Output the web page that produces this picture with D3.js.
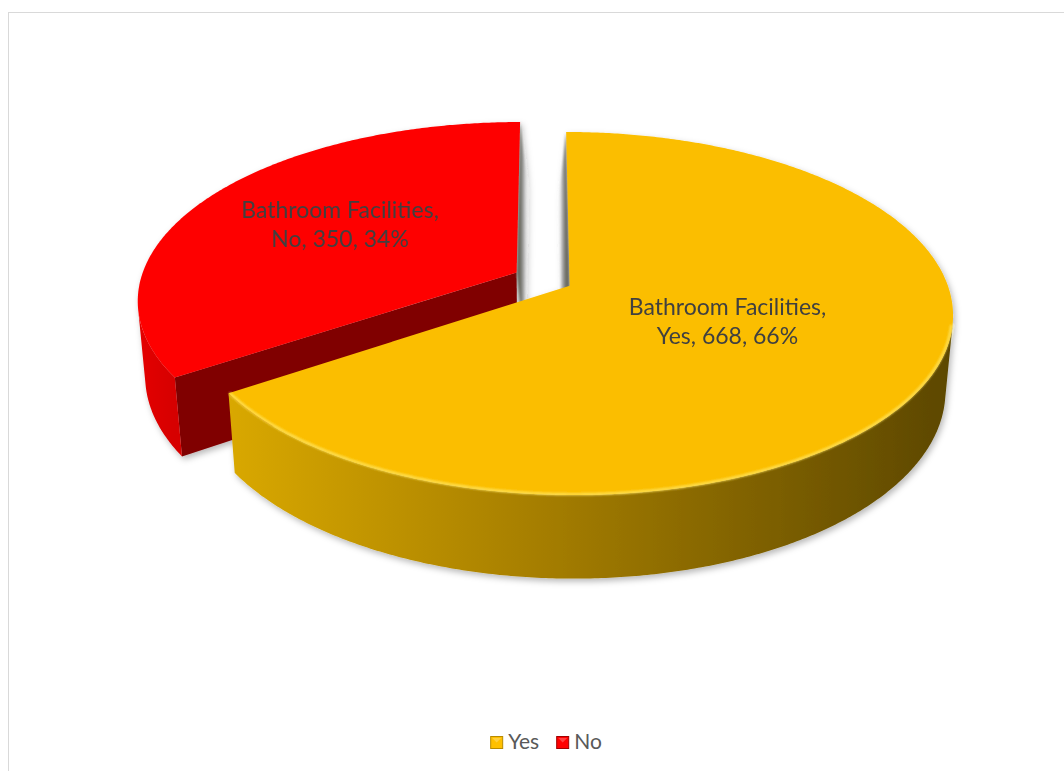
<!DOCTYPE html>
<html>
<head>
<meta charset="utf-8">
<script src="https://cdn.jsdelivr.net/npm/d3@7"></script>
<style>
  body { margin: 0; background: #ffffff; }
  svg { display: block; }
</style>
</head>
<body>
<svg id="chart" width="1064" height="771"></svg>
<script>
// ---- data ----
const seriesName = "Bathroom Facilities";
const categories = ["Yes", "No"];
const values = [668, 350];

// ---- styles ----
const topColors = ["#FBBE00", "#FE0000"];
const sideStops = [
  [["0", "#D9A800"], ["0.45", "#A37C00"], ["1", "#5C4700"]],
  [["0", "#E40000"], ["1", "#D60000"]]
];
const radialColors = ["#7A5E00", "#800000"];
const legendFill = ["#FFC000", "#FF0000"];
const legendEdge = ["#B88A00", "#A00000"];
const labelRadius = [0.455, 0.56];   // where each label sits along its slice's bisector

const W = 1064, H = 771;
const svg = d3.select("#chart");
const defs = svg.append("defs");

// chart area frame
svg.append("rect")
  .attr("x", 8.5).attr("y", 12.5)
  .attr("width", 1100).attr("height", 800)
  .attr("fill", "none").attr("stroke", "#D9D9D9").attr("stroke-width", 1);

// ---- 3D projection of a disc lying flat, seen from above at an angle ----
const cx = 543, cy = 279;      // screen position of pie centre
const scale = 376;             // pixels per unit radius
const sinPhi = 0.466, cosPhi = Math.sqrt(1 - sinPhi * sinPhi);
const dist = 5.8;              // camera distance, in radii
const thick = 0.228;           // slice thickness, in radii
const explode = 0.08;          // explosion distance, in radii
const cam = [0, dist * sinPhi, -dist * cosPhi];

function project(X, Y, Z) {
  const up = Y * cosPhi + Z * sinPhi;
  const depth = dist + Z * cosPhi - Y * sinPhi;
  const f = dist / depth;
  return [cx + scale * X * f, cy - scale * up * f];
}

const pie = d3.pie().sort(null).startAngle(0).endAngle(2 * Math.PI);
const arcs = pie(values).map((d, i) => {
  const mid = (d.startAngle + d.endAngle) / 2;
  return Object.assign(d, {
    i, mid,
    ox: explode * Math.sin(mid),
    oz: explode * Math.cos(mid)
  });
});

const line = d3.line();
function polyPath(pts) { return line(pts) + "Z"; }
function rimPoint(d, a, r, Y) {
  return project(d.ox + r * Math.sin(a), Y, d.oz + r * Math.cos(a));
}
function sampleAngles(a0, a1) {
  const n = Math.max(2, Math.ceil((a1 - a0) / (Math.PI / 360)));
  return d3.range(n + 1).map(k => a0 + (a1 - a0) * k / n);
}
function facesCamera(n, p) {
  return n[0] * (cam[0] - p[0]) + n[1] * (cam[1] - p[1]) + n[2] * (cam[2] - p[2]) > 0;
}

// soft shadow beneath the pie
const shadow = defs.append("filter").attr("id", "pieShadow")
  .attr("x", "-10%").attr("y", "-10%").attr("width", "120%").attr("height", "130%");
shadow.append("feDropShadow")
  .attr("dx", 2).attr("dy", 3).attr("stdDeviation", 3)
  .attr("flood-color", "#000").attr("flood-opacity", 0.28);

const blurSoft = defs.append("filter").attr("id", "soft")
  .attr("x", "-50%").attr("y", "-50%").attr("width", "200%").attr("height", "200%");
blurSoft.append("feGaussianBlur").attr("stdDeviation", 1.2);

const blurRim = defs.append("filter").attr("id", "rimBlur")
  .attr("x", "-5%").attr("y", "-5%").attr("width", "110%").attr("height", "110%");
blurRim.append("feGaussianBlur").attr("stdDeviation", 0.8);

const pieG = svg.append("g").attr("filter", "url(#pieShadow)");

// draw far slices first
const order = arcs.slice().sort((a, b) => b.oz - a.oz);

order.forEach(d => {
  const g = pieG.append("g").attr("class", "slice slice-" + categories[d.i]);
  const centreTop = project(d.ox, 0, d.oz);
  const centreBot = project(d.ox, -thick, d.oz);

  // radial (cut) faces
  [[d.startAngle, d.startAngle - Math.PI / 2], [d.endAngle, d.endAngle + Math.PI / 2]].forEach(([a, na]) => {
    const n = [Math.sin(na), 0, Math.cos(na)];
    const p = [d.ox + 0.5 * Math.sin(a), -thick / 2, d.oz + 0.5 * Math.cos(a)];
    if (!facesCamera(n, p)) return;
    const rimTop = rimPoint(d, a, 1, 0);
    const rimBot = rimPoint(d, a, 1, -thick);
    const along = Math.abs(Math.sin(a));
    if (along < 0.05) {
      // face seen almost edge-on across the gap: soft shaded band
      const side = n[0] > 0 ? 1 : -1;
      const gid = "gapShade" + d.i;
      const grad = defs.append("linearGradient").attr("id", gid)
        .attr("gradientUnits", "userSpaceOnUse")
        .attr("x1", rimTop[0]).attr("y1", 0)
        .attr("x2", rimTop[0] + side * 8).attr("y2", 0);
      grad.append("stop").attr("offset", "0").attr("stop-color", "#6a6a60");
      grad.append("stop").attr("offset", "0.45").attr("stop-color", "#a8a8a8");
      grad.append("stop").attr("offset", "1").attr("stop-color", "#ffffff").attr("stop-opacity", 0);
      const sh = side * 7;
      g.append("path")
        .attr("d", polyPath([centreTop, rimTop, [rimBot[0] + sh, rimBot[1]], [centreBot[0] + sh, centreBot[1]]]))
        .attr("fill", "url(#" + gid + ")")
        .attr("filter", "url(#soft)");
    } else {
      g.append("path")
        .attr("d", polyPath([centreTop, rimTop, rimBot, centreBot]))
        .attr("fill", radialColors[d.i]);
    }
  });

  // outer curved side: only the parts that face the camera
  const angles = sampleAngles(d.startAngle, d.endAngle);
  const runs = [];
  let cur = null;
  angles.forEach(a => {
    const n = [Math.sin(a), 0, Math.cos(a)];
    const p = [d.ox + Math.sin(a), -thick / 2, d.oz + Math.cos(a)];
    if (facesCamera(n, p)) {
      if (!cur) { cur = []; runs.push(cur); }
      cur.push(a);
    } else cur = null;
  });
  const gradId = "side" + d.i;
  let minX = Infinity, maxX = -Infinity;
  runs.forEach(run => run.forEach(a => {
    const x = rimPoint(d, a, 1, 0)[0];
    minX = Math.min(minX, x); maxX = Math.max(maxX, x);
  }));
  const sg = defs.append("linearGradient").attr("id", gradId)
    .attr("gradientUnits", "userSpaceOnUse")
    .attr("x1", minX).attr("y1", 0).attr("x2", maxX).attr("y2", 0);
  sideStops[d.i].forEach(([o, c]) => sg.append("stop").attr("offset", o).attr("stop-color", c));

  runs.forEach(run => {
    const topPts = run.map(a => rimPoint(d, a, 1, 0));
    const botPts = run.slice().reverse().map(a => rimPoint(d, a, 1, -thick));
    g.append("path")
      .attr("d", polyPath(topPts.concat(botPts)))
      .attr("fill", "url(#" + gradId + ")");
  });

  // top face
  const topPts = [centreTop].concat(angles.map(a => rimPoint(d, a, 1, 0)));
  g.append("path")
    .attr("d", polyPath(topPts))
    .attr("fill", topColors[d.i]);

  // light bevel along the front rim of the golden slice
  if (d.i === 0) {
    runs.forEach(run => {
      g.append("path")
        .attr("d", line(run.map(a => rimPoint(d, a, 0.997, 0))))
        .attr("fill", "none")
        .attr("stroke", "#FFE45C")
        .attr("stroke-width", 2.2)
        .attr("filter", "url(#rimBlur)");
    });
  }
});

// ---- data labels ----
const labelFont = "Lato, 'Open Sans', sans-serif";
arcs.forEach(d => {
  const r = labelRadius[d.i];
  const p = project(d.ox + r * Math.sin(d.mid), 0, d.oz + r * Math.cos(d.mid));
  const pct = Math.round(100 * (d.endAngle - d.startAngle) / (2 * Math.PI));
  const t = svg.append("text")
    .attr("x", p[0]).attr("y", p[1])
    .attr("text-anchor", "middle")
    .attr("font-family", labelFont)
    .attr("font-size", 23)
    .attr("fill", "#404040");
  t.append("tspan").attr("x", p[0]).attr("dy", -10).text(seriesName + ",");
  t.append("tspan").attr("x", p[0]).attr("dy", 29)
    .text(categories[d.i] + ", " + d.value + ", " + pct + "%");
});

// ---- legend ----
const legendG = svg.append("g");
let lx = 0;
const box = 12, gap = 6, itemGap = 17;
categories.forEach((c, i) => {
  const item = legendG.append("g").attr("transform", `translate(${lx},0)`);
  item.append("rect")
    .attr("x", 0.5).attr("y", -12.5).attr("width", box).attr("height", box)
    .attr("fill", legendFill[i]).attr("stroke", legendEdge[i]).attr("stroke-width", 1);
  item.append("path")
    .attr("d", `M2,-11 L${box - 1},-11 L${box / 2 + 0.5},-6.5 Z`)
    .attr("fill", "#ffffff").attr("opacity", 0.25);
  const txt = item.append("text")
    .attr("x", box + gap).attr("y", 0)
    .attr("font-family", labelFont).attr("font-size", 21)
    .attr("fill", "#595959").text(c);
  lx += box + gap + txt.node().getComputedTextLength() + itemGap;
});
const legendW = lx - itemGap;
legendG.attr("transform", `translate(${546 - legendW / 2},749)`);
</script>
</body>
</html>
